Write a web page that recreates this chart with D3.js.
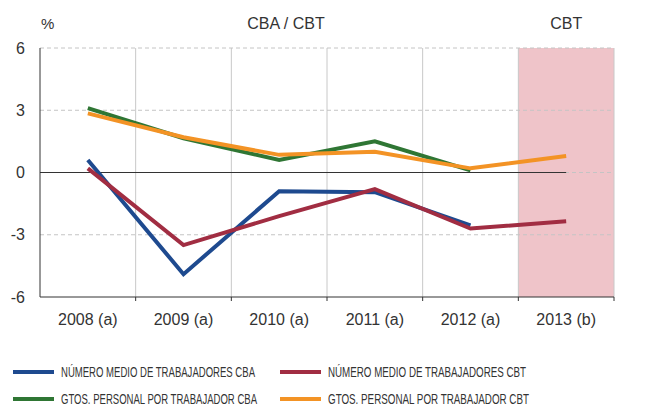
<!DOCTYPE html>
<html>
<head>
<meta charset="UTF-8">
<title>CBA / CBT</title>
<script src="https://d3js.org/d3.v7.min.js"></script>
<style>
  body { margin: 0; background: #fff; }
  text { font-family: "Liberation Sans", Arial, sans-serif; fill: #333; }
  .legend text { font-family: "Liberation Sans Narrow", "Liberation Sans", sans-serif; }
</style>
</head>
<body>
<div id="chart"></div>
<script>
// data
var years = ["2008 (a)", "2009 (a)", "2010 (a)", "2011 (a)", "2012 (a)", "2013 (b)"];
var empleoCBA = [0.6, -4.9, -0.9, -0.95, -2.55, null];
var empleoCBT = [0.2, -3.5, -2.1, -0.8, -2.7, -2.35];
var gastosCBA = [3.1, 1.65, 0.6, 1.5, 0.1, null];
var gastosCBT = [2.85, 1.7, 0.85, 1.0, 0.2, 0.8];
var yTicks = [-6, -3, 0, 3, 6];

var series = [
  {name: "NÚMERO MEDIO DE TRABAJADORES CBA", values: empleoCBA, color: "#1e4a8f"},
  {name: "NÚMERO MEDIO DE TRABAJADORES CBT", values: empleoCBT, color: "#a12d42"},
  {name: "GTOS. PERSONAL POR TRABAJADOR CBA", values: gastosCBA, color: "#2f7634"},
  {name: "GTOS. PERSONAL POR TRABAJADOR CBT", values: gastosCBT, color: "#f39325"}
];

var W = 645, H = 408;
var pLeft = 40, pRight = 614, pTop = 48, pBottom = 297;

var svg = d3.select("#chart").append("svg")
    .attr("width", W)
    .attr("height", H);

var x = d3.scaleBand().domain(years).range([pLeft, pRight]);
var y = d3.scaleLinear().domain([-6, 6]).range([pBottom, pTop]);

// shaded 2013 band
svg.append("rect")
    .attr("x", x("2013 (b)"))
    .attr("y", pTop)
    .attr("width", x.bandwidth())
    .attr("height", pBottom - pTop)
    .attr("fill", "#efc4c9");

// vertical grid
svg.selectAll(".vgrid")
    .data(years.slice(1))
    .enter().append("line")
    .attr("x1", function (d) { return x(d); })
    .attr("x2", function (d) { return x(d); })
    .attr("y1", pTop)
    .attr("y2", pBottom)
    .attr("stroke", "#c8c8c8")
    .attr("stroke-width", 1);

// horizontal dashed grid
svg.selectAll(".hgrid")
    .data(yTicks.filter(function (d) { return d !== -6; }))
    .enter().append("line")
    .attr("x1", pLeft)
    .attr("x2", pRight)
    .attr("y1", function (d) { return y(d); })
    .attr("y2", function (d) { return y(d); })
    .attr("stroke", "#c4c4c4")
    .attr("stroke-dasharray", "4,3")
    .attr("stroke-width", 1);

// right edge of frame
svg.append("line")
    .attr("x1", pRight).attr("x2", pRight)
    .attr("y1", pTop).attr("y2", pBottom)
    .attr("stroke", "#c8c8c8");

// zero line
svg.append("line")
    .attr("x1", pLeft)
    .attr("x2", x("2013 (b)") + x.bandwidth() / 2)
    .attr("y1", y(0))
    .attr("y2", y(0))
    .attr("stroke", "#333")
    .attr("stroke-width", 1);

// y axis
var yAxis = svg.append("g")
    .attr("transform", "translate(" + pLeft + ",0)")
    .call(d3.axisLeft(y).tickValues(yTicks).tickSize(0).tickPadding(15)
        .tickFormat(function (d) { return String(d); }));
yAxis.select(".domain").attr("stroke", "#333").attr("d", "M0," + pTop + "V" + pBottom);
yAxis.selectAll("text").style("font-size", "16px").attr("fill", "#222");

// x axis
var xAxis = svg.append("g")
    .attr("transform", "translate(0," + pBottom + ")")
    .call(d3.axisBottom(x).tickSize(0).tickPadding(17));
xAxis.select(".domain").attr("stroke", "#333").attr("d", "M" + pLeft + ",0H" + pRight);
xAxis.selectAll("text").style("font-size", "16px").attr("fill", "#222");
xAxis.selectAll(".bt")
    .data(years.slice(1).concat(["end"]))
    .enter().append("line")
    .attr("x1", function (d) { return d === "end" ? pRight : x(d); })
    .attr("x2", function (d) { return d === "end" ? pRight : x(d); })
    .attr("y1", 0)
    .attr("y2", 4)
    .attr("stroke", "#333");

// lines
var line = d3.line()
    .defined(function (d) { return d !== null; })
    .x(function (d, i) { return x(years[i]) + x.bandwidth() / 2; })
    .y(function (d) { return y(d); });

svg.selectAll(".series")
    .data(series)
    .enter().append("path")
    .attr("fill", "none")
    .attr("stroke", function (d) { return d.color; })
    .attr("stroke-width", 4)
    .attr("d", function (d) { return line(d.values); });

// header labels
svg.append("text").attr("x", 41).attr("y", 29).style("font-size", "15px").text("%");
svg.append("text").attr("x", 286).attr("y", 29).attr("text-anchor", "middle").style("font-size", "16px").text("CBA / CBT");
svg.append("text").attr("x", x("2013 (b)") + x.bandwidth() / 2).attr("y", 29).attr("text-anchor", "middle").style("font-size", "16px").text("CBT");

// legend
var legend = svg.append("g").attr("class", "legend");
var legPos = [[13, 372], [280, 372], [13, 399], [280, 399]];
series.forEach(function (s, i) {
  var p = legPos[i];
  legend.append("line")
      .attr("x1", p[0]).attr("x2", p[0] + 41)
      .attr("y1", p[1]).attr("y2", p[1])
      .attr("stroke", s.color)
      .attr("stroke-width", 4);
  legend.append("text")
      .attr("x", p[0] + 48)
      .attr("y", p[1] + 5)
      .style("font-size", "14px")
      .attr("textLength", i === 1 ? 198 : (i === 3 ? 201 : (i === 0 ? 194 : 196)))
      .attr("lengthAdjust", "spacingAndGlyphs")
      .text(s.name);
});
</script>
</body>
</html>
